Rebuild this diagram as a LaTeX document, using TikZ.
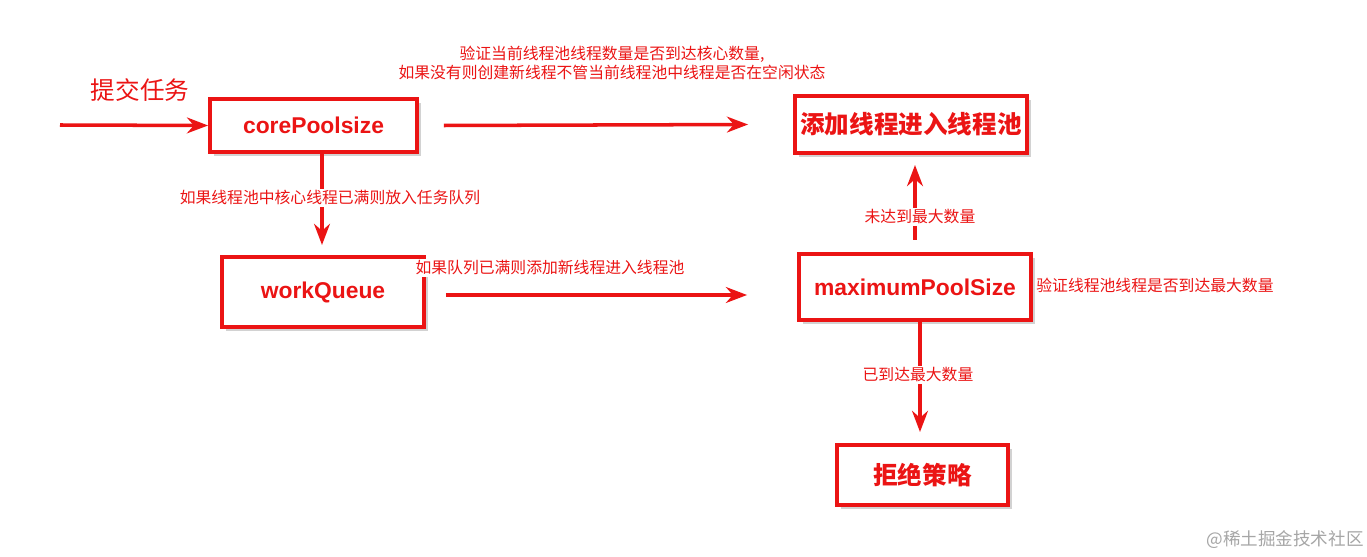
\documentclass[tikz,border=0pt]{standalone}
\usepackage{fontspec}
\setmainfont{Liberation Sans}
\newfontfamily\cjk{Noto Sans CJK SC}
\usetikzlibrary{arrows.meta,shadows}
\definecolor{rd}{RGB}{235,20,20}
\tikzset{
 bx/.style={draw=rd,line width=2.2pt,fill=white,drop shadow={opacity=0.35,shadow xshift=2pt,shadow yshift=-2pt},inner sep=0pt},
 ar/.style={draw=rd,line width=2pt,-{Stealth[length=12pt,width=9pt]}},
 lb/.style={font=\cjk\fontsize{9}{11}\selectfont,text=rd,align=center,fill=white,inner sep=1pt},
 bt/.style={font=\bfseries\fontsize{13}{15}\selectfont,text=rd},
}
\begin{document}
\begin{tikzpicture}[x=0.02cm,y=-0.02cm]
\useasboundingbox[fill=white] (0,0) rectangle (1367,557);
\node[bx,minimum width=207*0.02cm,minimum height=53*0.02cm] (core) at (313.5,125.5) {};
\node[bt] at (core) {corePoolsize};
\node[bx,minimum width=232*0.02cm,minimum height=57*0.02cm] (add) at (911,124.5) {};
\node[bt,font=\cjk\bfseries\fontsize{14}{16}\selectfont] at (add) {添加线程进入线程池};
\node[bx,minimum width=202*0.02cm,minimum height=70*0.02cm] (wq) at (323,292) {};
\node[bt] at (wq) {workQueue};
\node[bx,minimum width=232*0.02cm,minimum height=66*0.02cm] (max) at (915,287) {};
\node[bt] at (max) {maximumPoolSize};
\node[bx,minimum width=171*0.02cm,minimum height=60*0.02cm] (rej) at (922.5,475) {};
\node[bt,font=\cjk\bfseries\fontsize{14}{16}\selectfont] at (rej) {拒绝策略};
\coordinate (s) at (60,125);
\draw[ar] (s) -- (core.west);
\draw[ar] (core.east) ++(25,0) -- ([xshift=-45*0.02cm]add.west);
\draw[ar] (322,152) -- (322,245);
\draw[ar] (wq.east) ++(20,3) -- ([xshift=-50*0.02cm,yshift=-8*0.02cm]max.west);
\draw[ar] (915,240) -- (915,165);
\draw[ar] (920,320) -- (920,432);
\node[lb,font=\cjk\fontsize{14}{16}\selectfont] at (140,90) {提交任务};
\node[lb] at (612,63) {验证当前线程池线程数量是否到达核心数量,\\如果没有则创建新线程不管当前线程池中线程是否在空闲状态};
\node[lb] at (330,198) {如果线程池中核心线程已满则放入任务队列};
\node[lb] at (550,268) {如果队列已满则添加新线程进入线程池};
\node[lb] at (920,217) {未达到最大数量};
\node[lb] at (1155,285) {验证线程池线程是否到达最大数量};
\node[lb] at (918,375) {已到达最大数量};
\node[font=\cjk\fontsize{10}{12}\selectfont,text=gray!70] at (1285,540) {@稀土掘金技术社区};
\end{tikzpicture}
\end{document}
